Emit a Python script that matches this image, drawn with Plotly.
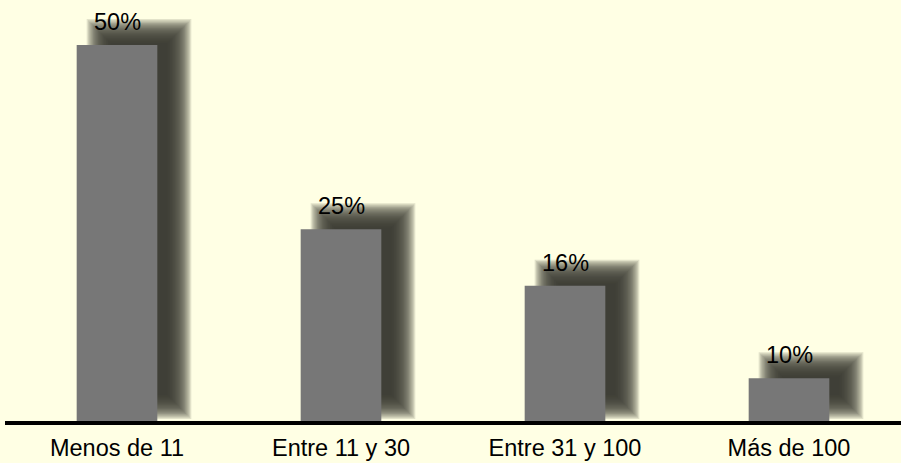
import plotly.graph_objects as go

categories = ["Menos de 11", "Entre 11 y 30", "Entre 31 y 100", "Más de 100"]
values = [50, 25.5, 18.0, 5.7]
labels = ["50%", "25%", "16%", "10%"]

W, H = 901, 463
ML, MR, MT, MB = 5, 0, 0, 42
Y_MAX = 56.0
BAR_W = 0.36
BG = "#FFFFE4"
BAR_COLOR = "#777777"
SHADOW_COLOR = "#3A3A30"
FONT_SIZE = 23.5

plot_w = W - ML - MR
plot_h = H - MT - MB
px_x = plot_w / len(categories)   # pixels per category unit
px_y = plot_h / Y_MAX             # pixels per value unit

fig = go.Figure()

# blurred drop shadow built from layered translucent bars
dx, dy = 22 / px_x, 14 / px_y
R, n = 12, 20
for k in range(n):
    inset = -R + 2 * R * k / (n - 1)
    ix, iy = inset / px_x, inset / px_y
    fig.add_trace(go.Bar(
        x=categories,
        y=[v - 2 * iy for v in values],
        base=dy + iy,
        width=BAR_W - 2 * ix,
        offset=-BAR_W / 2 + dx + ix,
        marker=dict(color=SHADOW_COLOR, line=dict(width=0)),
        opacity=0.14,
        hoverinfo="skip",
        showlegend=False,
    ))

fig.add_trace(go.Bar(
    x=categories,
    y=values,
    width=BAR_W,
    marker=dict(color=BAR_COLOR, line=dict(width=0)),
    showlegend=False,
))

for c, v, t in zip(categories, values, labels):
    fig.add_annotation(x=c, y=v, text=t, showarrow=False, yanchor="bottom",
                       yshift=8, font=dict(size=FONT_SIZE, color="black"))

fig.update_layout(
    width=W, height=H,
    margin=dict(l=ML, r=MR, t=MT, b=MB, autoexpand=False),
    paper_bgcolor=BG, plot_bgcolor=BG,
    barmode="overlay",
    font=dict(family="Liberation Sans, Arial, sans-serif", size=FONT_SIZE, color="black"),
    hovermode=False,
    xaxis=dict(showline=True, linecolor="black", linewidth=4, ticks="",
               showgrid=False, zeroline=False, ticklabelstandoff=3,
               automargin=False,
               tickfont=dict(size=FONT_SIZE, color="black")),
    yaxis=dict(range=[0, Y_MAX], visible=False, showgrid=False, zeroline=False,
               automargin=False),
)

fig.write_html("out.html")
